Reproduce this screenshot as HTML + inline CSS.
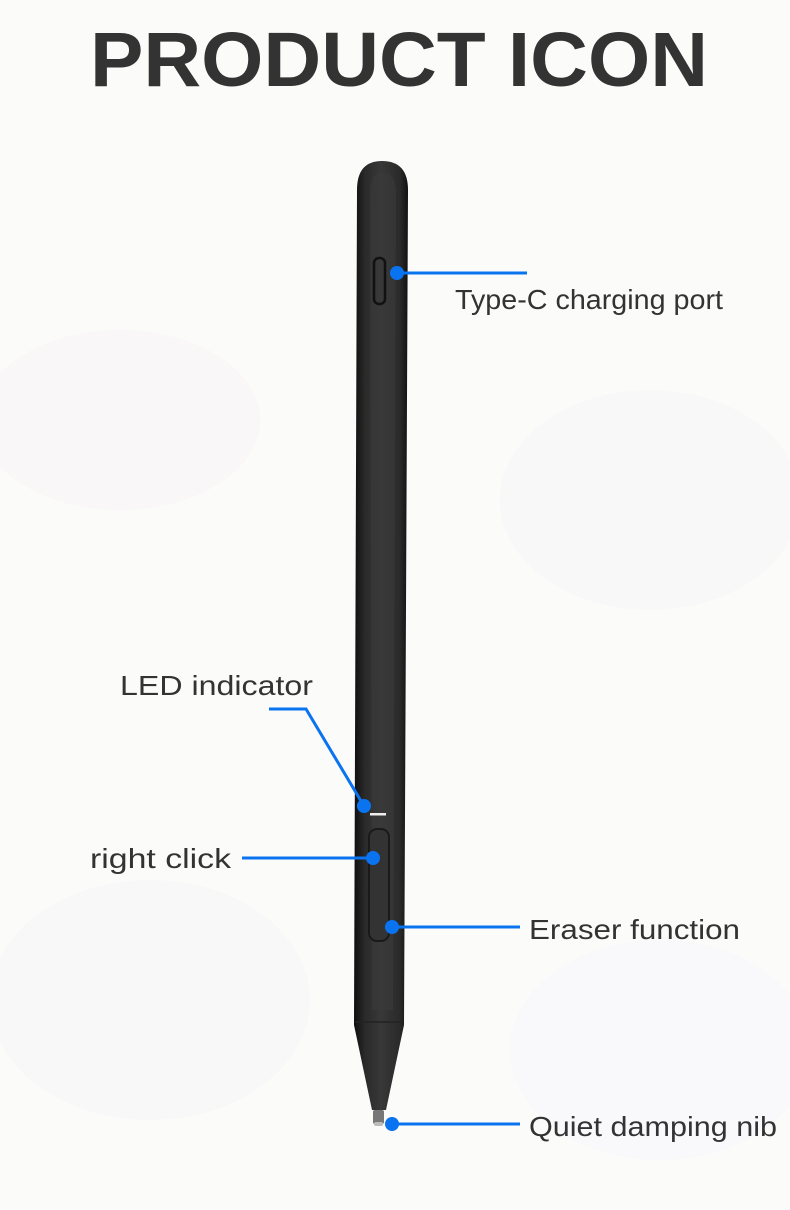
<!DOCTYPE html>
<html><head><meta charset="utf-8"><style>
html,body{margin:0;padding:0;width:790px;height:1210px;overflow:hidden;background:#fbfbf9;}
svg{display:block}
</style></head><body>
<svg width="790" height="1210" viewBox="0 0 790 1210" xmlns="http://www.w3.org/2000/svg">
<defs>
<linearGradient id="body" x1="0" x2="1" y1="0" y2="0">
<stop offset="0" stop-color="#0e0e0e"/><stop offset="0.2" stop-color="#2a2a2a"/><stop offset="0.5" stop-color="#383838"/><stop offset="0.85" stop-color="#2a2a2a"/><stop offset="1" stop-color="#111"/>
</linearGradient>
</defs>
<rect width="790" height="1210" fill="#fbfbf9"/>
<ellipse cx="120" cy="420" rx="140" ry="90" fill="#f9f7f7"/>
<ellipse cx="650" cy="500" rx="150" ry="110" fill="#f8f8f9"/>
<ellipse cx="150" cy="1000" rx="160" ry="120" fill="#f9f8f9"/>
<ellipse cx="660" cy="1050" rx="150" ry="110" fill="#f9f8fa"/>
<text x="399" y="86" text-anchor="middle" font-family="Liberation Sans, sans-serif" font-weight="bold" font-size="77" fill="#333" textLength="618" lengthAdjust="spacingAndGlyphs">PRODUCT ICON</text>
<path d="M357,190 Q357,161 382,161 Q408,161 408,190 L404,1025 L386,1110 L372,1110 L354,1025 Z" fill="url(#body)"/>
<path d="M370,195 Q370,172 383,172 Q396,172 396,195 L393,1010 L372,1010 Z" fill="#3a3a3a" opacity="0.6"/>
<line x1="355" y1="1022" x2="403" y2="1022" stroke="#222" stroke-width="1.5"/>
<rect x="373" y="1110" width="11" height="14" rx="2" fill="#777"/>
<rect x="374" y="1122" width="9" height="4" rx="2" fill="#bbb"/>
<rect x="374" y="258" width="11" height="46" rx="5" fill="none" stroke="#111" stroke-width="2.5"/>
<rect x="369" y="829" width="20" height="112" rx="8" fill="#333" stroke="#1a1a1a" stroke-width="2"/>
<rect x="370" y="813" width="16" height="2.5" fill="#eee"/>
<g stroke="#0a74f0" stroke-width="3" fill="none">
<line x1="397" y1="273" x2="527" y2="273"/>
<polyline points="269,709 306,709 364,806"/>
<line x1="242" y1="858" x2="373" y2="858"/>
<line x1="392" y1="927" x2="520" y2="927"/>
<line x1="392" y1="1124" x2="520" y2="1124"/>
</g>
<g fill="#0a74f0">
<circle cx="397" cy="273" r="7"/>
<circle cx="364" cy="806" r="7"/>
<circle cx="373" cy="858" r="7"/>
<circle cx="392" cy="927" r="7"/>
<circle cx="392" cy="1124" r="7"/>
</g>
<g font-family="Liberation Sans, sans-serif" font-size="28" fill="#333">
<text x="455" y="309" textLength="268" lengthAdjust="spacingAndGlyphs">Type-C charging port</text>
<text x="120" y="695" textLength="193" lengthAdjust="spacingAndGlyphs">LED indicator</text>
<text x="90" y="868" textLength="141" lengthAdjust="spacingAndGlyphs">right click</text>
<text x="529" y="939" textLength="211" lengthAdjust="spacingAndGlyphs">Eraser function</text>
<text x="529" y="1136" textLength="248" lengthAdjust="spacingAndGlyphs">Quiet damping nib</text>
</g>
</svg>
</body></html>
